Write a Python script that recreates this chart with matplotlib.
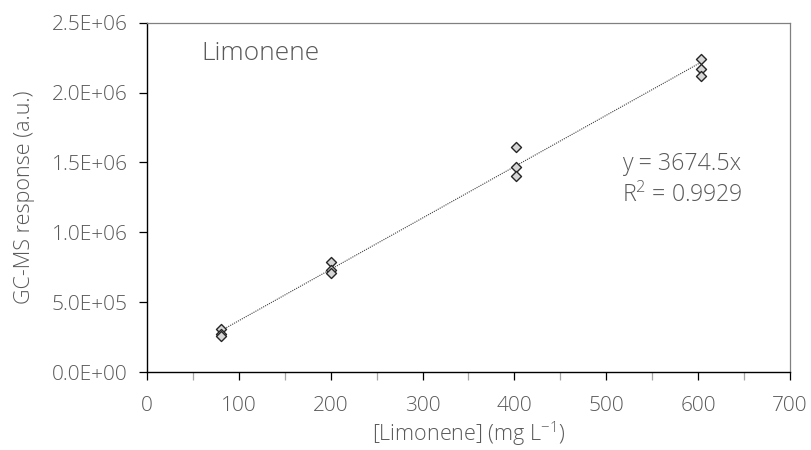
import numpy as np
import matplotlib
matplotlib.use("Agg")
import matplotlib.pyplot as plt
from matplotlib.ticker import FuncFormatter, MultipleLocator

plt.rcParams['font.family'] = ['Open Sans', 'DejaVu Sans']
plt.rcParams['font.weight'] = 'light'
plt.rcParams['axes.labelweight'] = 'light'
plt.rcParams['mathtext.fontset'] = 'custom'
plt.rcParams['mathtext.rm'] = 'Open Sans:light'

# Calibration data: triplicate injections at each concentration
conc = [80, 80, 80, 200, 200, 200, 402, 402, 402, 603, 603, 603]
response = [3.05e5, 2.70e5, 2.55e5,
            7.85e5, 7.30e5, 7.12e5,
            1.61e6, 1.47e6, 1.405e6,
            2.24e6, 2.17e6, 2.12e6]
slope = 3674.5
r_squared = 0.9929

x_ticks = [0, 100, 200, 300, 400, 500, 600, 700]
y_ticks = [0, 5e5, 1e6, 1.5e6, 2e6, 2.5e6]

text_gray = '#595959'

fig = plt.figure(figsize=(8.11, 4.5), dpi=100)
ax = fig.add_axes([0.1813, 0.1733, 0.7927, 0.7763])

# Linear fit through the origin, over the measured range
xfit = np.array([min(conc), max(conc)])
ax.plot(xfit, slope * xfit, linestyle=(0, (1, 1)), color='#404040', linewidth=0.8, zorder=2)

ax.scatter(conc, response, marker='D', s=26, facecolor='#d6d6d6',
           edgecolor='#262626', linewidth=1.0, zorder=3)

ax.set_xlim(0, 700)
ax.set_ylim(0, 2.5e6)
ax.set_xticks(x_ticks)
ax.set_yticks(y_ticks)
ax.xaxis.set_minor_locator(MultipleLocator(50))
ax.yaxis.set_major_formatter(FuncFormatter(lambda v, p: f"{v:.1E}"))

ax.tick_params(axis='both', which='major', direction='out', length=6, width=0.9,
               color='#000000', labelcolor=text_gray, labelsize=15)
ax.tick_params(axis='x', which='major', pad=11)
ax.tick_params(axis='y', which='major', pad=8)
ax.tick_params(axis='x', which='minor', direction='out', length=6, width=0.9, color='#a6a6a6')

for side in ('left', 'bottom'):
    ax.spines[side].set_color('#000000')
    ax.spines[side].set_linewidth(1.0)
for side in ('top', 'right'):
    ax.spines[side].set_color('#808080')
    ax.spines[side].set_linewidth(0.9)

ax.set_xlabel('[Limonene] (mg L$^{-1}$)', color=text_gray, fontsize=15.5, labelpad=3)
ax.set_ylabel('GC-MS response (a.u.)', color=text_gray, fontsize=15.5, labelpad=12)

ax.text(59.5, 2.23e6, 'Limonene', color=text_gray, fontsize=19, va='baseline', ha='left')
ax.text(517, 1.447e6, f'y = {slope}x', color=text_gray, fontsize=16.7, va='baseline', ha='left')
ax.text(517, 1.22e6, f'R$^2$ = {r_squared}', color=text_gray, fontsize=16.7, va='baseline', ha='left')

fig.savefig('out.png', dpi=100)
